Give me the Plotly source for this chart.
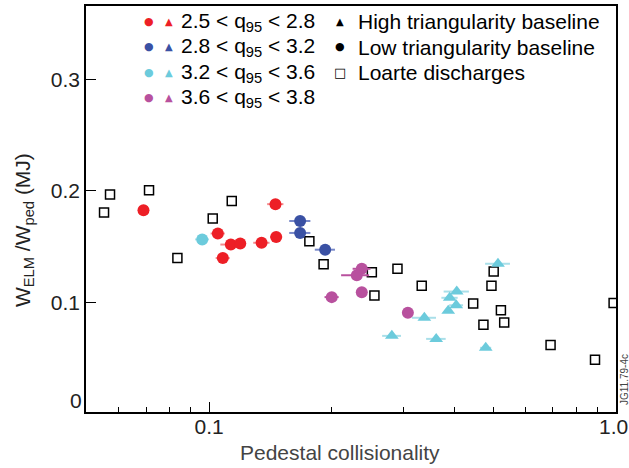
import plotly.graph_objects as go

# ---------------- data ----------------
loarte_x = [0.0552, 0.0571, 0.0712, 0.0836, 0.1021, 0.1137, 0.1764, 0.1912, 0.2512, 0.2549,
            0.2904, 0.3331, 0.4457, 0.4723, 0.4943, 0.5005, 0.5214, 0.5312, 0.6906, 0.8880, 0.9865]
loarte_y = [0.1807, 0.1969, 0.2007, 0.1400, 0.1753, 0.1911, 0.1550, 0.1343, 0.1272, 0.1063,
            0.1303, 0.1152, 0.0992, 0.0801, 0.1152, 0.1278, 0.0931, 0.0822, 0.0620, 0.0489, 0.0996]

red_x = [0.0690, 0.1051, 0.1131, 0.1193, 0.1081, 0.1346, 0.1462, 0.1456]
red_y = [0.1828, 0.1619, 0.1520, 0.1529, 0.1399, 0.1536, 0.1588, 0.1882]
red_err_plus = [0.0, 0.0042, 0.0035, 0.0040, 0.0043, 0.0062, 0.0050, 0.0067]
red_err_minus = [0.0, 0.0042, 0.0065, 0.0040, 0.0043, 0.0062, 0.0050, 0.0067]

blue_x = [0.1674, 0.1674, 0.1929]
blue_y = [0.1731, 0.1624, 0.1474]
blue_err = [0.0100, 0.0100, 0.0110]

cyan_circ_x = [0.0962]
cyan_circ_y = [0.1566]
cyan_circ_err = [0.0038]

cyan_tri_x = [0.2813, 0.3381, 0.3615, 0.4061, 0.3903, 0.4049, 0.3870, 0.4785, 0.5128]
cyan_tri_y = [0.0702, 0.0864, 0.0675, 0.1099, 0.1043, 0.0976, 0.0926, 0.0595, 0.1348]
cyan_tri_err = [0.015, 0.023, 0.020, 0.029, 0.018, 0.016, 0.009, 0.015, 0.036]

mag_x = [0.2373, 0.2307, 0.2002, 0.2373, 0.3080]
mag_y = [0.1303, 0.1245, 0.1049, 0.1092, 0.0909]
mag_err_plus = [0.012, 0.0166, 0.008, 0.0, 0.0]
mag_err_minus = [0.012, 0.0196, 0.008, 0.0, 0.0]

y_tick_vals = [0.1, 0.2, 0.3]
y_tick_text = ["0.1", "0.2", "0.3"]
x_tick_vals = [0.1, 1.0]
x_tick_text = ["0.1", ""]
x_last_label = "1.0"
x_minor_vals = [0.06, 0.07, 0.08, 0.09, 0.2, 0.3, 0.4, 0.5, 0.6, 0.7, 0.8, 0.9]

legend_ranges = ["2.5 < q<sub>95</sub> < 2.8", "2.8 < q<sub>95</sub> < 3.2",
                 "3.2 < q<sub>95</sub> < 3.6", "3.6 < q<sub>95</sub> < 3.8"]
legend_types = ["High triangularity baseline", "Low triangularity baseline", "Loarte discharges"]

# ---------------- styles ----------------
RED, BLUE, CYAN, MAG = "#ed1f26", "#3a51a4", "#6ccbdc", "#b8519e"
RED_L, BLUE_L, CYAN_L, MAG_L = "#f48a8d", "#7888c8", "#a9dfe9", "#c67ab4"
FONT = "Liberation Sans, Arial, sans-serif"
FS = 21

W, H = 629, 468
L, R, T, B = 86, 13, 6, 56
PW, PH = W - L - R, H - T - B


def px2paper(px, py):
    return (px - L) / PW, (H - B - py) / PH


fig = go.Figure()


def err(plus, minus, color):
    return dict(type="data", symmetric=False, array=plus, arrayminus=minus,
                color=color, thickness=2, width=0)


fig.add_trace(go.Scatter(x=loarte_x, y=loarte_y, mode="markers",
                         marker=dict(symbol="square-open", size=9, color="black", line=dict(width=1.5))))
fig.add_trace(go.Scatter(x=red_x, y=red_y, mode="markers",
                         error_x=err(red_err_plus, red_err_minus, RED_L),
                         marker=dict(symbol="circle", size=12, color=RED)))
fig.add_trace(go.Scatter(x=blue_x, y=blue_y, mode="markers",
                         error_x=err(blue_err, blue_err, BLUE_L),
                         marker=dict(symbol="circle", size=12, color=BLUE)))
fig.add_trace(go.Scatter(x=cyan_circ_x, y=cyan_circ_y, mode="markers",
                         error_x=err(cyan_circ_err, cyan_circ_err, CYAN_L),
                         marker=dict(symbol="circle", size=12, color=CYAN)))
fig.add_trace(go.Scatter(x=cyan_tri_x, y=cyan_tri_y, mode="markers",
                         error_x=err(cyan_tri_err, cyan_tri_err, CYAN_L),
                         marker=dict(symbol="triangle-up", size=12, color=CYAN)))
fig.add_trace(go.Scatter(x=mag_x, y=mag_y, mode="markers",
                         error_x=err(mag_err_plus, mag_err_minus, MAG),
                         marker=dict(symbol="circle", size=12, color=MAG)))

ann = []
# legend rows (left column)
row_y = [21, 46.5, 72, 97]
cols = [RED, BLUE, CYAN, MAG]
for ry, c, label in zip(row_y, cols, legend_ranges):
    ax, ay = px2paper(149, ry)
    ann.append(dict(x=ax, y=ay, text="●", font=dict(size=11, color=c, family="DejaVu Sans"),
                    xanchor="center", yanchor="middle"))
    ax, ay = px2paper(169, ry)
    ann.append(dict(x=ax, y=ay, text="▲", font=dict(size=10, color=c, family="DejaVu Sans"),
                    xanchor="center", yanchor="middle"))
    ax, ay = px2paper(179, ry + 1)
    ann.append(dict(x=ax, y=ay, text=label, font=dict(size=FS, color="black", family=FONT),
                    xanchor="left", yanchor="middle"))
# legend rows (right column)
glyphs = [("▲", 10), ("●", 11), ("□", 13)]
for ry, (g, gs), label in zip(row_y[:3], glyphs, legend_types):
    ax, ay = px2paper(340, ry)
    ann.append(dict(x=ax, y=ay, text=g, font=dict(size=gs, color="black", family="DejaVu Sans"),
                    xanchor="center", yanchor="middle"))
    ax, ay = px2paper(356, ry + 1)
    ann.append(dict(x=ax, y=ay, text=label, font=dict(size=FS, color="black", family=FONT),
                    xanchor="left", yanchor="middle"))

# zero label on y axis (raised like the reference)
ann.append(dict(x=0, xref="paper", y=0.002, yref="y", text="0", showarrow=False,
                xanchor="right", yanchor="middle", xshift=-2, yshift=12,
                font=dict(size=FS, color="#222", family=FONT)))
# last x label, kept inside the page edge
ax, ay = px2paper(629, 426)
ann.append(dict(x=ax, y=ay, text=x_last_label, font=dict(size=FS, color="#222", family=FONT),
                xanchor="right", yanchor="middle", borderpad=0))
# axis titles
ax, ay = px2paper(340, 452)
ann.append(dict(x=ax, y=ay, text="Pedestal collisionality", font=dict(size=FS, color="#444", family=FONT),
                xanchor="center", yanchor="middle"))
ax, ay = px2paper(24, 230)
ann.append(dict(x=ax, y=ay, text="W<sub>ELM</sub> /W<sub>ped</sub> (MJ)", textangle=-90,
                font=dict(size=FS, color="#222", family=FONT), xanchor="center", yanchor="middle"))
ax, ay = px2paper(624, 380)
ann.append(dict(x=ax, y=ay, text="JG11.79-4c", textangle=-90,
                font=dict(size=10, color="#444", family=FONT), xanchor="center", yanchor="middle"))

for a in ann:
    a.setdefault("xref", "paper")
    a.setdefault("yref", "paper")
    a["showarrow"] = False

fig.update_layout(
    width=W, height=H,
    margin=dict(l=L, r=R, t=T, b=B, pad=0, autoexpand=False),
    paper_bgcolor="white", plot_bgcolor="white",
    showlegend=False,
    font=dict(family=FONT, size=FS, color="#222"),
    annotations=ann,
    xaxis=dict(type="log", range=[-1.3024, 0.0], tickvals=x_tick_vals, ticktext=x_tick_text,
               ticks="inside", ticklen=10, tickwidth=1.2, tickcolor="black",
               showline=True, linecolor="black", linewidth=1.5, mirror=True, automargin=False,
               showgrid=False, zeroline=False, ticklabelstandoff=-5,
               tickfont=dict(size=FS, color="#222"),
               minor=dict(tickvals=x_minor_vals, ticks="inside", ticklen=5, tickwidth=1,
                          tickcolor="black", showgrid=False)),
    yaxis=dict(range=[0.002, 0.3657], tickvals=y_tick_vals, ticktext=y_tick_text,
               ticks="inside", ticklen=10, tickwidth=1.2, tickcolor="black",
               showline=True, linecolor="black", linewidth=1.5, mirror=True, automargin=False,
               showgrid=False, zeroline=False,
               tickfont=dict(size=FS, color="#222")),
)

fig.write_html("out.html", config={"displayModeBar": False},
               post_script="document.body.style.margin='0';document.body.style.overflow='hidden';")
